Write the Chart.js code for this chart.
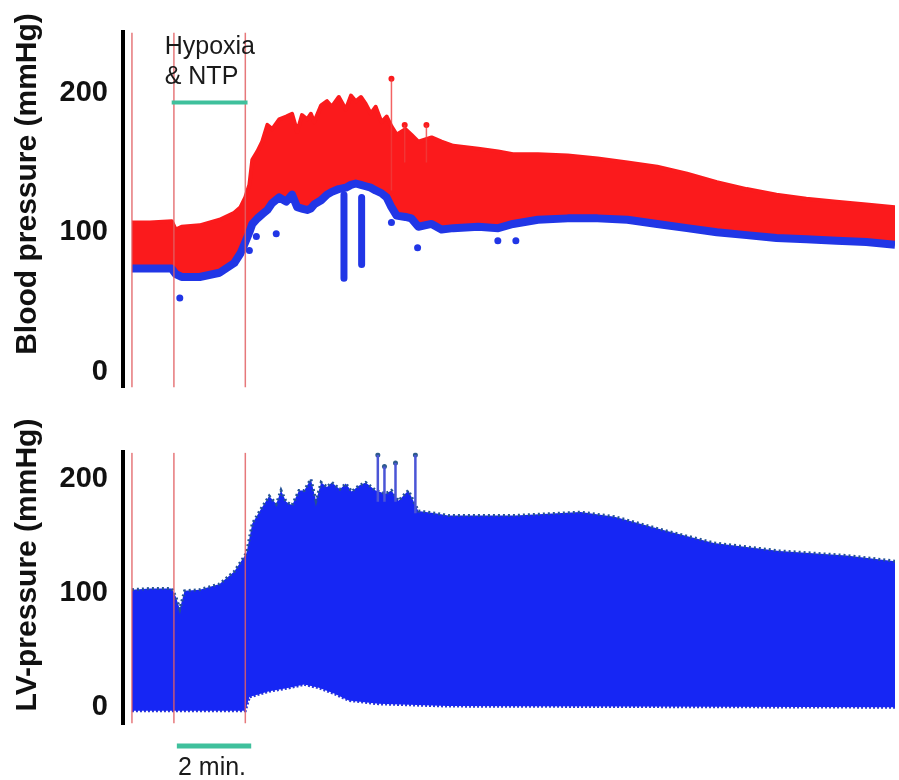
<!DOCTYPE html>
<html>
<head>
<meta charset="utf-8">
<script src="https://cdn.jsdelivr.net/npm/chart.js@4.4.1/dist/chart.umd.min.js"></script>
<style>
  html, body { margin: 0; padding: 0; background: #fff; }
  #wrap { position: relative; width: 899px; height: 780px; }
  .box { position: absolute; left: 0; width: 899px; }
  #top { top: 0; height: 420px; }
  #bot { top: 420px; height: 360px; }
</style>
</head>
<body>
<div id="wrap">
  <div class="box" id="top"><canvas id="bp"></canvas></div>
  <div class="box" id="bot"><canvas id="lv"></canvas></div>
</div>
<script>
// time axis in minutes from start of recording
const yTicks = [0, 100, 200];
const markerTimes = [0, 1.14, 3.08];
const hypoxiaStart = 1.08, hypoxiaEnd = 3.14;
const scaleBarStart = 1.22, scaleBarEnd = 3.24;

// blood pressure envelope (systolic top / diastolic bottom), mmHg
const bpTime = [0, 0.49, 1.08, 1.19, 1.35, 1.84, 2.38, 2.78, 2.95, 3.08, 3.19, 3.27, 3.41, 3.54, 3.68, 3.81, 4.0, 4.19, 4.35, 4.49, 4.62, 4.76, 4.86, 4.95, 5.14, 5.3, 5.43, 5.62, 5.81, 5.95, 6.08, 6.22, 6.35, 6.49, 6.62, 6.78, 6.92, 7.05, 7.19, 7.43, 7.59, 7.78, 8.14, 8.41, 8.73, 9.41, 9.95, 10.35, 11.03, 11.84, 12.65, 13.46, 14.27, 15.08, 15.89, 16.7, 17.51, 18.32, 19.14, 19.95, 20.73];
const bpSys = [107, 107, 108, 102, 104, 105, 109, 114, 118, 125, 134, 152, 158, 165, 177, 174, 181, 183, 185, 172, 184, 181, 185, 179, 191, 194, 190, 197, 188, 198, 194, 197, 192, 185, 190, 179, 183, 176, 170, 174, 170, 165, 168, 165, 162, 160, 158, 156, 156, 155, 153, 150, 147, 142, 136, 131, 127, 124, 122, 120, 118];
const bpDia = [74, 74, 74, 70, 68, 68, 71, 78, 85, 93, 100, 106, 110, 113, 116, 121, 125, 122, 127, 118, 117, 116, 117, 120, 123, 127, 129, 131, 132, 134, 135, 134, 133, 132, 130, 128, 125, 118, 112, 111, 110, 104, 106, 102, 103, 104, 103, 106, 109, 110, 110, 109, 106, 103, 100, 98, 96, 95, 94, 93, 91];

// single beats standing out of the BP trace
const bpPeakTime = [7.05, 7.41, 8.0];
const bpPeakBase = [130, 150, 150];
const bpPeakTop = [210, 177, 177];
const bpDipTime = [5.76, 6.24];
const bpDipTop = [127, 125];
const bpDipLow = [67, 77];
const bpLowDotTime = [1.3, 3.19, 3.38, 3.92, 7.05, 7.76, 9.94, 10.43];
const bpLowDotVal = [53, 87, 97, 99, 107, 89, 94, 94];

// LV pressure envelope, mmHg
const lvTime = [0, 0.49, 1.08, 1.19, 1.3, 1.43, 1.84, 2.38, 2.78, 3.11, 3.27, 3.51, 3.73, 3.92, 4.05, 4.19, 4.35, 4.54, 4.68, 4.86, 5.0, 5.14, 5.3, 5.43, 5.65, 5.81, 5.97, 6.16, 6.35, 6.62, 6.89, 7.05, 7.24, 7.51, 7.78, 8.24, 8.59, 10.41, 12.19, 13.11, 14.46, 15.81, 17.59, 19.41, 20.73];
const lvMax = [103, 104, 104, 97, 86, 102, 103, 108, 119, 135, 161, 174, 185, 178, 190, 180, 177, 190, 190, 200, 181, 197, 193, 197, 191, 196, 189, 194, 197, 190, 187, 190, 181, 190, 172, 170, 168, 168, 171, 167, 155, 144, 137, 133, 128];
const lvMinTime = [0, 3.08, 3.19, 3.73, 4.27, 4.68, 5.08, 5.49, 5.89, 6.7, 8.59, 20.73];
const lvMin = [-3, -3, 9, 14, 17, 20, 17, 12, 6, 3, 1, 0];
const lvPeakTime = [6.68, 6.86, 7.16, 7.7];
const lvPeakBase = [180, 180, 180, 170];
const lvPeakTop = [221, 211, 214, 221];

const RED = '#fb1a1c';
const BLUE_BP = '#2136e6';
const BLUE_LV = '#1626f4';
const GREEN = '#3fc09c';
const FONT = 'Liberation Sans, Arial, Helvetica, sans-serif';

const pts = (t, v) => t.map((x, i) => ({ x: x, y: v[i] }));
function segs(t, lo, hi) {
  const out = [];
  t.forEach((x, i) => { out.push({ x: x, y: lo[i] }, { x: x, y: hi[i] }, { x: x, y: null }); });
  return out;
}
function markers(lo, hi) {
  return segs(markerTimes, markerTimes.map(() => lo), markerTimes.map(() => hi));
}

function yAxis(min, max) {
  return {
    min: min, max: max,
    grid: { display: false, drawTicks: false },
    border: { display: true, color: '#000', width: 4 },
    ticks: { padding: 15, color: '#111', font: { family: FONT, size: 29, weight: 'bold' } },
    afterBuildTicks: s => { s.ticks = yTicks.map(v => ({ value: v })); },
    afterFit: s => { s.width = 123; }
  };
}
const xAxis = { type: 'linear', min: -0.243, max: 20.73, display: false };

// rotated axis titles and annotation texts
function textPlugin(title, cy, extra) {
  return {
    id: 'texts',
    afterDatasetsDraw(chart) {
      const ctx = chart.ctx;
      ctx.save();
      ctx.fillStyle = '#111';
      ctx.font = 'bold 30px ' + FONT;
      ctx.textAlign = 'center';
      ctx.textBaseline = 'middle';
      ctx.translate(28, cy);
      ctx.rotate(-Math.PI / 2);
      ctx.fillText(title, 0, 0);
      ctx.restore();
      if (extra) extra(chart);
    }
  };
}

const base = { responsive: true, maintainAspectRatio: false, animation: false, events: [],
  plugins: { legend: { display: false }, tooltip: { enabled: false } },
  elements: { point: { radius: 0 }, line: { tension: 0 } } };

new Chart(document.getElementById('bp'), {
  type: 'line',
  data: { datasets: [
    { data: markers(-11.3, 243.3), borderColor: 'rgba(226,96,100,0.85)', borderWidth: 1.5, spanGaps: false, order: 1 },
    { data: [{ x: hypoxiaStart, y: 193 }, { x: hypoxiaEnd, y: 193 }], borderColor: GREEN, borderWidth: 4, order: 0 },
    { data: pts(bpLowDotTime, bpLowDotVal), showLine: false, pointRadius: 3.5, pointBackgroundColor: BLUE_BP, pointBorderWidth: 0, order: 2 },
    { data: segs(bpDipTime, bpDipLow, bpDipTop), borderColor: BLUE_BP, borderWidth: 7, borderCapStyle: 'round', spanGaps: false, order: 2 },
    { data: pts(bpTime, bpDia), borderColor: BLUE_BP, borderWidth: 8, borderJoinStyle: 'round', order: 3 },
    { data: segs(bpPeakTime, bpPeakBase, bpPeakTop), borderColor: 'rgba(240,60,60,0.8)', borderWidth: 1.5, spanGaps: false, order: 4 },
    { data: pts(bpPeakTime, bpPeakTop), showLine: false, pointRadius: 3, pointBackgroundColor: RED, pointBorderWidth: 0, order: 4 },
    { data: pts(bpTime, bpSys), borderColor: RED, borderWidth: 4, borderJoinStyle: 'round', backgroundColor: RED, fill: { target: 4 }, order: 5 }
  ] },
  options: Object.assign({}, base, {
    layout: { padding: { top: 23, bottom: 15, left: 0, right: 0 } },
    scales: { x: xAxis, y: yAxis(-11.3, 243.3) }
  }),
  plugins: [textPlugin('Blood pressure (mmHg)', 184, chart => {
    const ctx = chart.ctx;
    const x0 = chart.scales.x.getPixelForValue(hypoxiaStart) - 7;
    ctx.save();
    ctx.fillStyle = '#1a1a1a';
    ctx.font = '25px ' + FONT;
    ctx.textAlign = 'left';
    ctx.textBaseline = 'alphabetic';
    ctx.fillText('Hypoxia', x0, 54);
    ctx.fillText('& NTP', x0, 84);
    ctx.restore();
  })]
});

new Chart(document.getElementById('lv'), {
  type: 'line',
  data: { datasets: [
    { data: markers(-14, 223), borderColor: 'rgba(226,96,100,0.85)', borderWidth: 1.5, spanGaps: false, order: 1 },
    { data: [{ x: scaleBarStart, y: -34 }, { x: scaleBarEnd, y: -34 }], borderColor: GREEN, borderWidth: 5, clip: false, order: 0 },
    { data: segs(lvPeakTime, lvPeakBase, lvPeakTop), borderColor: '#4b55d6', borderWidth: 2.5, spanGaps: false, order: 2 },
    { data: pts(lvPeakTime, lvPeakTop), showLine: false, pointRadius: 2.5, pointBackgroundColor: '#2d5a8c', pointBorderWidth: 0, order: 2 },
    { data: pts(lvTime, lvMax), borderColor: '#245196', borderWidth: 3, borderDash: [2, 3], backgroundColor: BLUE_LV, fill: { target: 5 }, order: 3 },
    { data: pts(lvMinTime, lvMin), borderColor: '#2a36d8', borderWidth: 3, borderDash: [2, 2], order: 4 }
  ] },
  options: Object.assign({}, base, {
    layout: { padding: { top: 28, bottom: 56, left: 0, right: 0 } },
    scales: { x: xAxis, y: yAxis(-14.7, 223.3) }
  }),
  plugins: [textPlugin('LV-pressure (mmHg)', 145, chart => {
    const ctx = chart.ctx;
    const cx = (chart.scales.x.getPixelForValue(scaleBarStart) + chart.scales.x.getPixelForValue(scaleBarEnd)) / 2;
    ctx.save();
    ctx.fillStyle = '#1a1a1a';
    ctx.font = '25px ' + FONT;
    ctx.textAlign = 'center';
    ctx.textBaseline = 'alphabetic';
    ctx.fillText('2 min.', cx - 2, 355);
    ctx.restore();
  })]
});
</script>
</body>
</html>
